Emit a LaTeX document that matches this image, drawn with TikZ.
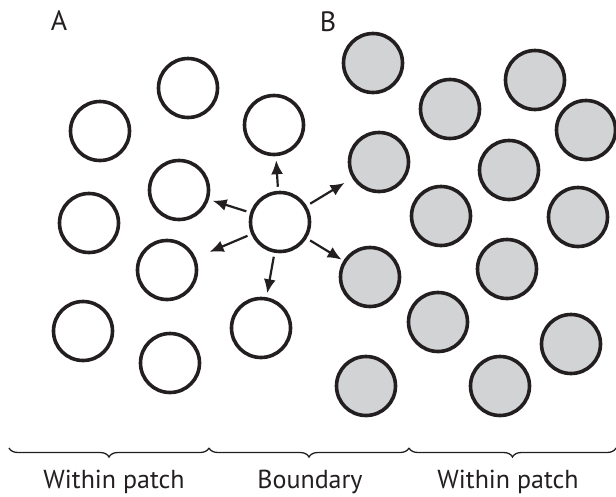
\documentclass[tikz,border=0pt]{standalone}
\usepackage{fontspec}
\setmainfont{PT Sans}
\usepackage{xcolor}
\usetikzlibrary{arrows.meta,decorations.pathreplacing}
\definecolor{cellgray}{HTML}{D1D3D4}
\definecolor{cellline}{HTML}{231F20}
\tikzset{
  opencell/.style={
    circle,
    draw=cellline,
    line width=3.6pt,
    minimum size=59pt,
    inner sep=0pt
  },
  graycell/.style={
    opencell,
    fill=cellgray
  },
  arrow/.style={
    -{Latex[length=14pt,width=12pt]},
    line width=2.2pt,
    draw=cellline,
    shorten <=4pt,
    shorten >=4pt
  },
  panel/.style={
    font=\fontsize{28}{32}\selectfont,
    text=cellline,
    anchor=base
  },
  caption/.style={
    font=\fontsize{26}{30}\selectfont,
    text=cellline,
    anchor=base
  },
  patchbrace/.style={
    decorate,
    decoration={brace,mirror,amplitude=9pt},
    line width=1.3pt,
    draw=cellline
  }
}

\begin{document}
\begin{tikzpicture}[x=1pt,y=-1pt]

\useasboundingbox (0,0) rectangle (616,496);

% panel letters
\node[panel] (labA) at (59,30) {A};
\node[panel] (labB) at (328,31) {B};

% patch A (open cells)
\node[opencell] (a1) at (188,88) {};
\node[opencell] (a2) at (100,131) {};
\node[opencell] (a3) at (274,125) {};
\node[opencell] (a4) at (179,190) {};
\node[opencell] (a5) at (89,223) {};
\node[opencell] (a6) at (167,270) {};
\node[opencell] (a7) at (83,331) {};
\node[opencell] (a8) at (170,363) {};
\node[opencell] (a9) at (261,328) {};
\node[opencell] (mover) at (280,222) {};

% patch B (gray cells)
\node[graycell] (b1) at (373,63) {};
\node[graycell] (b2) at (450,109) {};
\node[graycell] (b3) at (535,80) {};
\node[graycell] (b4) at (586,130) {};
\node[graycell] (b5) at (379,162) {};
\node[graycell] (b6) at (509,170) {};
\node[graycell] (b7) at (441,216) {};
\node[graycell] (b8) at (578,217) {};
\node[graycell] (b9) at (370,277) {};
\node[graycell] (b10) at (507,269) {};
\node[graycell] (b11) at (438,322) {};
\node[graycell] (b12) at (571,344) {};
\node[graycell] (b13) at (366,386) {};
\node[graycell] (b14) at (500,386) {};

% moves from the boundary cell
\draw[arrow] (mover) -- (a3);
\draw[arrow] (mover) -- (a4);
\draw[arrow, shorten >=15pt] (mover) -- (a6);
\draw[arrow] (mover) -- (a9);
\draw[arrow, shorten >=9pt] (mover) -- (b5);
\draw[arrow, shorten >=2pt] (mover) -- (b9);

% braces and zone names
\coordinate (z0) at (9,448);
\coordinate (z1) at (209,448);
\coordinate (z2) at (409,448);
\coordinate (z3) at (616,448);
\draw[patchbrace] (z0) -- (z1);
\draw[patchbrace] (z1) -- (z2);
\draw[patchbrace] (z2) -- (z3);

\node[caption] (zoneL) at (114,488) {Within patch};
\node[caption] (zoneM) at (310,488) {Boundary};
\node[caption] (zoneR) at (508,488) {Within patch};

\end{tikzpicture}
\end{document}
